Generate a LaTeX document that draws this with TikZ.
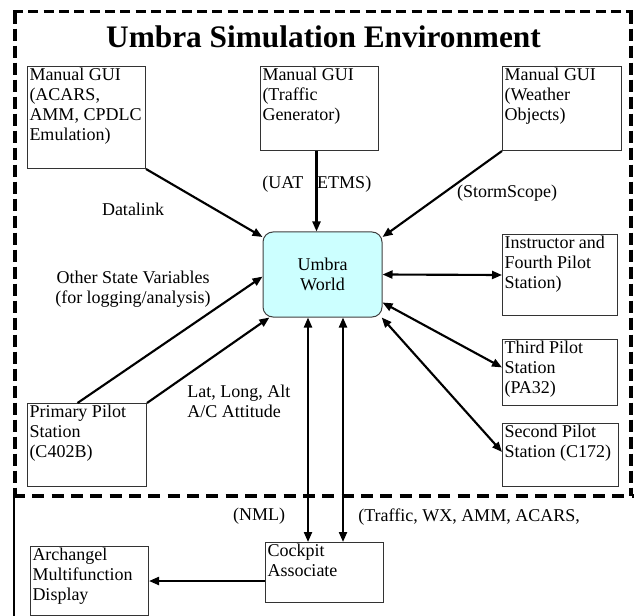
\documentclass[tikz,border=0pt]{standalone}
\usepackage{fontspec}
\setmainfont{Liberation Serif}
\usetikzlibrary{arrows.meta,calc}
\newlength\pxu \setlength\pxu{0.75pt}
\newcommand\boxtxt[3]{\parbox[c][\dimexpr#2\pxu-3pt\relax][t]{\dimexpr#1\pxu-3pt\relax}{\raggedright #3}}
\definecolor{umbrafill}{HTML}{CCFFFF}
\begin{document}
\begin{tikzpicture}[x=0.75pt,y=-0.75pt,
  every node/.style={font=\fontsize{13.5}{15}\selectfont},
  box/.style={draw=black!80, line width=0.75pt, inner xsep=1.5pt, inner ysep=1.5pt, anchor=north west},
  tip/.tip={Triangle[length=7.5pt,width=6pt]},
  conn/.style={line width=1.6pt, -tip},
  biconn/.style={line width=1.6pt, tip-tip},
  lbl/.style={inner sep=0pt},
  frameline/.style={line width=3.5pt, dash pattern=on 9pt off 3.75pt}]
\useasboundingbox (0,0) rectangle (634,616);
% frame
\draw[line width=2pt, dash pattern=on 7.5pt off 4pt] (13,11.7) -- (633,11.7);
\draw[frameline] (15,11.7) -- (15,496);
\draw[frameline] (631,11.7) -- (631,496);
\draw[line width=3pt, dash pattern=on 9pt off 5.5pt] (13,496) -- (634,496);
\draw[line width=1.5pt] (13.7,496) -- (13.7,616);
% title
\node[font=\fontsize{23.5}{28}\selectfont\bfseries, anchor=base] (title) at (323.5,48) {Umbra Simulation Environment};
% boxes
\node[box] (acars) at (27,66) {\boxtxt{118}{102}{Manual GUI\\(ACARS,\\AMM, CPDLC\\Emulation)}};
\node[box] (traffic) at (260,66) {\boxtxt{118}{84}{Manual GUI\\(Traffic\\Generator)}};
\node[box] (weather) at (502,66) {\boxtxt{119}{84}{Manual GUI\\(Weather\\Objects)}};
\node[box] (instr) at (502,234) {\boxtxt{115}{81}{Instructor and\\Fourth Pilot\\Station)}};
\node[box] (third) at (502,339) {\boxtxt{115}{66}{Third Pilot\\Station\\(PA32)}};
\node[box] (second) at (502,423) {\boxtxt{116}{63}{Second Pilot\\Station (C172)}};
\node[box] (primary) at (27,403) {\boxtxt{119}{83}{Primary Pilot\\Station\\(C402B)}};
\node[box] (arch) at (30,546) {\boxtxt{118}{69}{Archangel\\Multifunction\\Display}};
\node[box] (cockpit) at (265,542) {\boxtxt{118}{60}{Cockpit\\Associate}};
\node[draw=black!75, line width=0.75pt, fill=umbrafill, rounded corners=7.5pt,
  minimum width=89.25pt, minimum height=63.75pt, align=center] (umbra) at (322.5,274.5) {Umbra\\World};
% labels
\node[lbl, anchor=base] (ldatalink) at (133,216) {Datalink};
\node[lbl, anchor=base west] (luat) at (262,189) {(UAT\hspace{10.5pt}ETMS)};
\node[lbl, anchor=base] (lstorm) at (507,198) {(StormScope)};
\node[lbl, align=center] (lother) at (133,289) {Other State Variables\\(for logging/analysis)};
\node[lbl, align=left, anchor=west] (llat) at (187,401) {Lat, Long, Alt\\A/C Attitude};
\node[lbl, anchor=base] (lnml) at (259,520) {(NML)};
\node[lbl, anchor=base west] (ltraf) at (358,521) {(Traffic, WX, AMM, ACARS,};
% connectors
\coordinate (tr) at ($(traffic.south)+(-3,0)$);
\coordinate (pp) at ($(primary.north)+(-9.5,0)$);
\coordinate (v1) at ($(umbra.south)+(-14.5,0)$);
\coordinate (v2) at ($(umbra.south)+(20.5,0)$);
\draw[conn] (acars.south east) -- (umbra.148);
\draw[conn] (tr) -- (tr |- umbra.north);
\draw[conn] (weather.south west) -- (umbra.32);
\draw[biconn] (umbra.east) -- (instr.west);
\draw[biconn] (umbra.-25) -- (third.175);
\draw[biconn] (umbra.-36) -- (second.177);
\draw[conn] (pp) -- (umbra.182);
\draw[conn] (primary.north east) -- (umbra.219);
\draw[biconn] (v1) -- (v1 |- cockpit.north);
\draw[biconn] (v2) -- (v2 |- cockpit.north);
\draw[conn] (arch.east -| cockpit.west) -- (arch.east);
\end{tikzpicture}
\end{document}
